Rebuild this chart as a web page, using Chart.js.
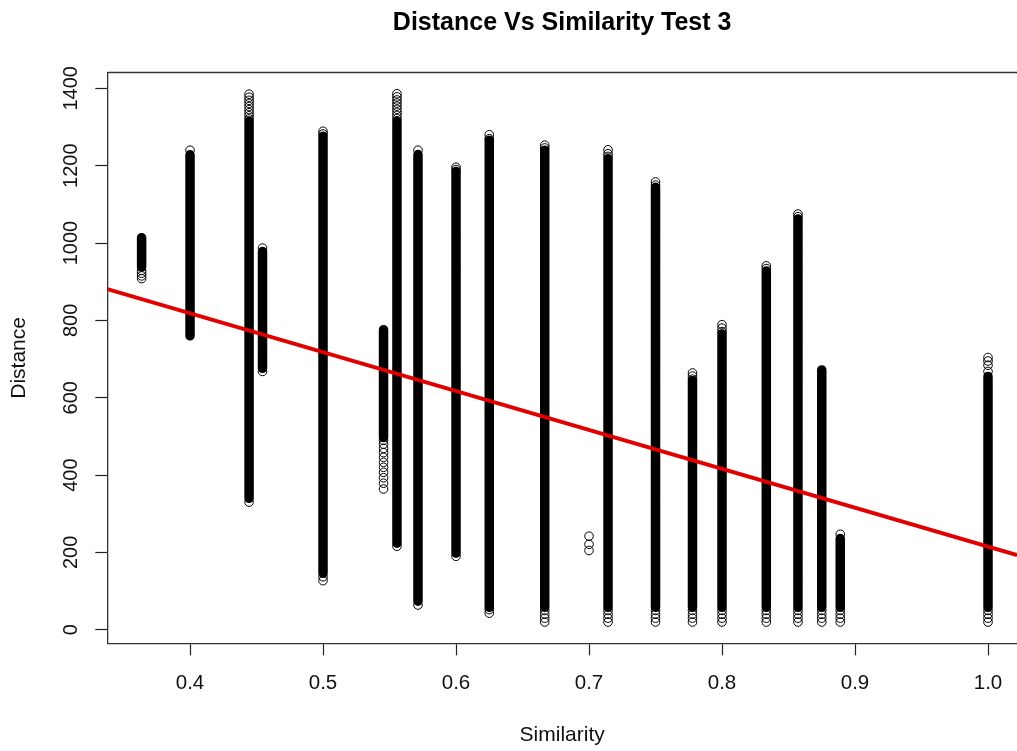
<!DOCTYPE html>
<html>
<head>
<meta charset="utf-8">
<title>Distance Vs Similarity Test 3</title>
<script src="https://cdn.jsdelivr.net/npm/chart.js@4.4.0/dist/chart.umd.min.js"></script>
<style>
  html, body { margin: 0; padding: 0; background: #fff; }
  #wrap { width: 1017px; height: 751px; }
</style>
</head>
<body>
<div id="wrap"><canvas id="myChart" width="1017" height="751"></canvas></div>
<script>
// each similarity value has a solid run of points between distLow and distHigh
let similarity = [0.3636, 0.4, 0.4444, 0.4545, 0.5, 0.5455, 0.5556, 0.5714, 0.6, 0.625,
                  0.6667, 0.7143, 0.75, 0.7778, 0.8, 0.8333, 0.8571, 0.875, 0.8889, 1.0];
let distLow  = [938, 760, 340, 676, 146, 497, 224, 74, 198, 58,
                58, 58, 58, 58, 58, 58, 58, 58, 58, 58];
let distHigh = [1014, 1228, 1315, 978, 1276, 776, 1315, 1229, 1185, 1266,
                1240, 1218, 1144, 644, 765, 928, 1062, 672, 236, 655];

// circles that stand apart: ends of the runs and the sparse stretches
let pointSim = [
  0.3636, 0.3636, 0.3636, 0.3636,
  0.4,
  0.4444, 0.4444, 0.4444, 0.4444, 0.4444, 0.4444, 0.4444, 0.4444, 0.4444, 0.4444,
  0.4545, 0.4545,
  0.5, 0.5, 0.5, 0.5,
  0.5455, 0.5455, 0.5455, 0.5455, 0.5455, 0.5455, 0.5455, 0.5455, 0.5455, 0.5455, 0.5455,
  0.5556, 0.5556, 0.5556, 0.5556, 0.5556, 0.5556, 0.5556, 0.5556, 0.5556, 0.5556,
  0.5714, 0.5714,
  0.6, 0.6, 0.6,
  0.625, 0.625, 0.625, 0.625,
  0.6667, 0.6667, 0.6667, 0.6667, 0.6667, 0.6667,
  0.7, 0.7, 0.7,
  0.7143, 0.7143, 0.7143, 0.7143, 0.7143, 0.7143, 0.7143,
  0.75, 0.75, 0.75, 0.75, 0.75, 0.75,
  0.7778, 0.7778, 0.7778, 0.7778, 0.7778, 0.7778, 0.7778,
  0.8, 0.8, 0.8, 0.8, 0.8, 0.8, 0.8,
  0.8333, 0.8333, 0.8333, 0.8333, 0.8333, 0.8333,
  0.8571, 0.8571, 0.8571, 0.8571, 0.8571, 0.8571,
  0.875, 0.875, 0.875, 0.875,
  0.8889, 0.8889, 0.8889, 0.8889, 0.8889,
  1.0, 1.0, 1.0, 1.0, 1.0, 1.0, 1.0, 1.0
];
let pointDist = [
  908, 915, 922, 929,
  1240,
  1385, 1377, 1369, 1361, 1353, 1345, 1337, 1329, 1321, 330,
  987, 668,
  1289, 1282, 137, 127,
  364, 379, 393, 407, 420, 433, 446, 458, 469, 480, 490,
  1386, 1378, 1370, 1362, 1354, 1346, 1338, 1330, 1322, 216,
  1240, 64,
  1196, 1190, 190,
  1280, 1270, 52, 43,
  1253, 1246, 50, 40, 30, 20,
  242, 221, 205,
  1241, 1231, 1224, 50, 40, 30, 20,
  1158, 1150, 50, 40, 30, 20,
  664, 656, 648, 50, 40, 30, 20,
  789, 780, 771, 50, 40, 30, 20,
  941, 934, 50, 40, 30, 20,
  1075, 1068, 50, 40, 30, 20,
  50, 40, 30, 20,
  247, 50, 40, 30, 20,
  704, 695, 684, 668, 50, 40, 30, 20
];

// fitted line, read where it meets the left and right edges
let fitSim = [0.3378, 1.0218];
let fitDist = [881, 193];

let xTicks = [0.4, 0.5, 0.6, 0.7, 0.8, 0.9, 1.0];
let yTicks = [0, 200, 400, 600, 800, 1000, 1200, 1400];

Chart.defaults.font.family = '"Liberation Sans", Arial, sans-serif';
Chart.defaults.color = '#111';

let runs = [];
for (let i = 0; i < similarity.length; i++) {
  runs.push({x: similarity[i], y: distLow[i]});
  runs.push({x: similarity[i], y: distHigh[i]});
  runs.push({x: similarity[i], y: null});
}
let circles = pointSim.map((s, i) => ({x: s, y: pointDist[i]}));
let fit = fitSim.map((s, i) => ({x: s, y: fitDist[i]}));

// R draws a full box round the plot; Chart.js only gives the two axis lines
const boxTop = {
  id: 'boxTop',
  afterDraw(chart) {
    const ctx = chart.ctx, a = chart.chartArea;
    ctx.save();
    ctx.strokeStyle = '#333';
    ctx.lineWidth = 1.3;
    ctx.beginPath();
    ctx.moveTo(a.left, a.top);
    ctx.lineTo(chart.width, a.top);
    ctx.stroke();
    ctx.restore();
  }
};

new Chart("myChart", {
  type: "scatter",
  data: {
    datasets: [
      {
        data: fit,
        showLine: true,
        borderColor: '#e00000',
        borderWidth: 4,
        pointRadius: 0
      },
      {
        data: circles,
        pointStyle: 'circle',
        pointRadius: 4.3,
        borderWidth: 1,
        borderColor: '#000',
        backgroundColor: 'rgba(0,0,0,0)'
      },
      {
        data: runs,
        showLine: true,
        spanGaps: false,
        borderColor: '#000',
        borderWidth: 9.5,
        borderCapStyle: 'round',
        pointRadius: 0
      }
    ]
  },
  options: {
    responsive: false,
    animation: false,
    devicePixelRatio: 1,
    layout: { padding: 0, autoPadding: false },
    plugins: {
      legend: { display: false },
      tooltip: { enabled: false },
      title: {
        display: true,
        text: 'Distance Vs Similarity Test 3',
        fullSize: false,
        color: '#000',
        font: { size: 25, weight: 'bold' },
        padding: { top: 8, bottom: 34.5 }
      }
    },
    scales: {
      x: {
        type: 'linear',
        min: 0.3378,
        max: 1.0218,
        afterBuildTicks: s => { s.ticks = xTicks.map(v => ({value: v})); },
        afterFit: s => { s.height = 107.7; s.paddingLeft = 0; s.paddingRight = 0; },
        grid: { drawOnChartArea: false, tickLength: 12, color: '#222', tickWidth: 1.2 },
        border: { color: '#333', width: 1.3 },
        ticks: {
          padding: 15.5,
          font: { size: 20.5 },
          callback: v => Number(v).toFixed(1)
        },
        title: {
          display: true,
          text: 'Similarity',
          font: { size: 21 },
          padding: { top: 0, bottom: 3.4 }
        }
      },
      y: {
        type: 'linear',
        min: -35,
        max: 1441,
        afterBuildTicks: s => { s.ticks = yTicks.map(v => ({value: v})); },
        afterFit: s => { s.width = 107.3; s.paddingTop = 0; s.paddingBottom = 0; },
        grid: { drawOnChartArea: false, tickLength: 12, color: '#222', tickWidth: 1.2 },
        border: { color: '#333', width: 1.3 },
        ticks: {
          padding: 1.5,
          minRotation: 90,
          maxRotation: 90,
          crossAlign: 'center',
          font: { size: 20 },
          callback: v => String(v)
        },
        title: {
          display: true,
          text: 'Distance',
          font: { size: 21 },
          padding: { top: 7, bottom: 0 }
        }
      }
    }
  },
  plugins: [boxTop]
});
</script>
</body>
</html>
